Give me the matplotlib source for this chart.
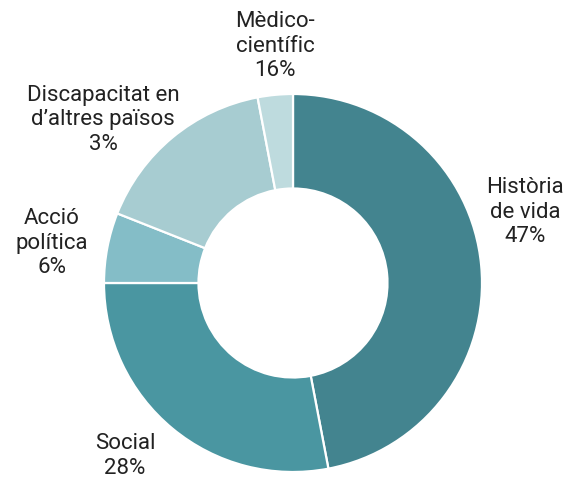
import matplotlib
matplotlib.use("Agg")
from matplotlib import pyplot as plt

# slice sizes, clockwise from 12 o'clock
values = [47, 28, 6, 16, 3]
colors = ["#43848f", "#4a96a1", "#84bdc7", "#a7ccd1", "#bedbde"]
# label texts as printed on the chart
names = ["Història\nde vida", "Social", "Acció\npolítica",
         "Discapacitat en\nd\u2019altres països", "Mèdico-\ncientífic"]
pcts = ["47%", "28%", "6%", "3%", "16%"]
# label centres in pixels (x from left, y from top)
label_pos = [(525, 212), (125, 456), (52, 243), (103, 120), (275, 46)]

W, H = 571, 482
plt.rcParams['font.family'] = ['Liberation Sans Narrow', 'Roboto', 'DejaVu Sans']

fig = plt.figure(figsize=(W / 100, H / 100), dpi=100)
ax = fig.add_axes([0, 0, 1, 1])
ax.set_xlim(0, W)
ax.set_ylim(0, H)
ax.set_aspect('equal')
ax.axis('off')

cx, cy, r = 293, H - 283, 189
ax.pie(values, colors=colors, startangle=90, counterclock=False,
       center=(cx, cy), radius=r,
       wedgeprops=dict(width=r * 0.5, edgecolor='white', linewidth=1.6))
ax.set_xlim(0, W)
ax.set_ylim(0, H)

for name, pct, (x, y) in zip(names, pcts, label_pos):
    ax.text(x, H - y, name + "\n" + pct, ha='center', va='center',
            fontsize=16, color='#222222', linespacing=1.2)

fig.savefig("out.png", dpi=100)
